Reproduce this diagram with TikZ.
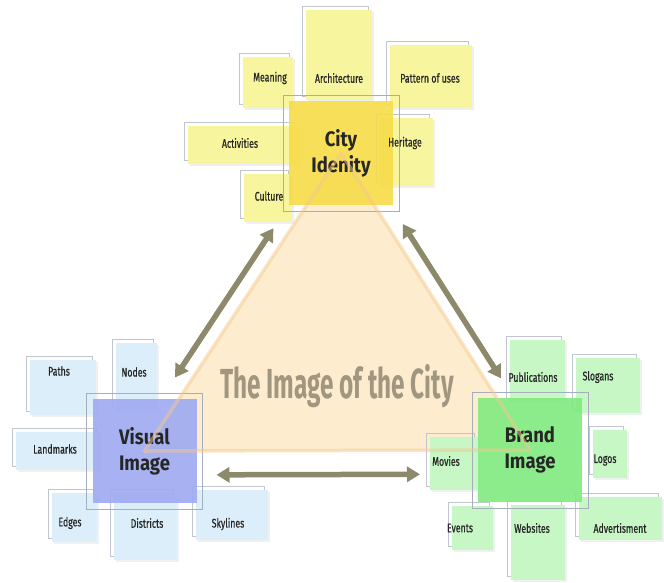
\documentclass[tikz,border=0pt]{standalone}
\usepackage{fontspec}
\setmainfont{Fira Sans}
\newfontfamily\narrowfont[FakeStretch=0.7, FakeBold=0.6]{Fira Sans}
\newfontfamily\semifont[FakeStretch=0.88]{Fira Sans}
\newfontfamily\titlefont[FakeStretch=0.58]{Fira Sans}
\usepackage{tikz}
\usetikzlibrary{shapes,arrows,arrows.meta,positioning,shadows}

\definecolor{yelSat}{HTML}{F7F59E}
\definecolor{yelCore}{HTML}{F6DC48}
\definecolor{bluSat}{HTML}{DCEEF9}
\definecolor{bluCore}{HTML}{9EAAF2}
\definecolor{grnSat}{HTML}{C6F7C4}
\definecolor{grnCore}{HTML}{80EA80}
\definecolor{frameGray}{HTML}{A4AEBC}
\definecolor{arrowOlive}{HTML}{8C8A6A}
\definecolor{triFill}{HTML}{FDEDCE}
\definecolor{triEdge}{HTML}{F5C88E}
\definecolor{titleGray}{HTML}{978D78}

\begin{document}
\begin{tikzpicture}[x=1pt, y=-1pt,
        sat/.style={rectangle, fill=#1, inner sep=0pt,
            drop shadow={opacity=0.12, shadow xshift=2pt, shadow yshift=-2pt},
            preaction={draw=frameGray!70, line width=0.6pt, fill=none, transform canvas={xshift=-4pt, yshift=4pt}}},
        core/.style={rectangle, draw=frameGray, line width=0.8pt, minimum width=116, minimum height=116, inner sep=0pt,
            align=center, text=black!85, font=\semifont\bfseries\fontsize{21}{26}\selectfont,
            path picture={\fill[#1, opacity=0.9] ([xshift=6pt,yshift=6pt]path picture bounding box.south west)
                rectangle ([xshift=-6pt,yshift=-6pt]path picture bounding box.north east);}},
        lbl/.style={font=\narrowfont\fontsize{12.5}{14}\selectfont, text=black!85, inner sep=1pt},
        triedge/.style={draw=triEdge, line width=3.5pt, opacity=0.5, line join=round},
        arrow/.style={{Triangle[width=15pt,length=13pt]}-{Triangle[width=15pt,length=13pt]}, line width=5.5pt, draw=arrowOlive}]

        \useasboundingbox (0,0) rectangle (664,582);

        % Triangle
        \coordinate (cityC) at (341,153);
        \coordinate (visualC) at (144.5,451);
        \coordinate (brandC) at (530,450);
        \fill[triFill] (cityC) -- (visualC) -- (brandC) -- cycle;

        % City identity
        \node[sat=yelSat, minimum width=50, minimum height=51] (meaning) at (268,82.5) {};
        \node[sat=yelSat, minimum width=66, minimum height=90] (arch) at (339,55) {};
        \node[sat=yelSat, minimum width=82, minimum height=63] (pattern) at (431,76.5) {};
        \node[sat=yelSat, minimum width=110, minimum height=38] (activ) at (243,145) {};
        \node[sat=yelSat, minimum width=53, minimum height=68] (heritage) at (406.5,152) {};
        \node[sat=yelSat, minimum width=48, minimum height=48] (culture) at (268,198) {};

        % Visual image
        \node[sat=bluSat, minimum width=66, minimum height=55] (paths) at (63,387.5) {};
        \node[sat=bluSat, minimum width=41, minimum height=67] (nodes) at (136.5,376.5) {};
        \node[sat=bluSat, minimum width=84, minimum height=38] (landmarks) at (58,451) {};
        \node[sat=bluSat, minimum width=45, minimum height=49] (edges) at (74.5,517.5) {};
        \node[sat=bluSat, minimum width=63, minimum height=67] (districts) at (145.5,526.5) {};
        \node[sat=bluSat, minimum width=72, minimum height=50] (skylines) at (232,515) {};

        % Brand image
        \node[sat=grnSat, minimum width=55, minimum height=62] (publ) at (537.5,371) {};
        \node[sat=grnSat, minimum width=64, minimum height=55] (slogans) at (608,385.5) {};
        \node[sat=grnSat, minimum width=48, minimum height=53] (movies) at (454,463.5) {};
        \node[sat=grnSat, minimum width=34, minimum height=48] (logos) at (610,454) {};
        \node[sat=grnSat, minimum width=41, minimum height=44] (events) at (472.5,528) {};
        \node[sat=grnSat, minimum width=54, minimum height=75] (websites) at (538,542.5) {};
        \node[sat=grnSat, minimum width=83, minimum height=43] (advert) at (620.5,518.5) {};

        % Core boxes
        \node[core=yelCore] (city) at (cityC) {City\\Idenity};
        \node[core=bluCore] (visual) at (visualC) {Visual\\Image};
        \node[core=grnCore] (brand) at (brandC) {Brand\\Image};
        \draw[triedge] (cityC) -- (visualC) -- (brandC) -- cycle;

        % Labels
        \node[lbl] (meaningT) at (270,78) {Meaning};
        \node[lbl] (archT) at (339,78) {Architecture};
        \node[lbl] (patternT) at (430,78) {Pattern of uses};
        \node[lbl] (activT) at (240,143) {Activities};
        \node[lbl] (heritageT) at (405,143) {Heritage};
        \node[lbl] (cultureT) at (269,196) {Culture};
        \node[lbl] (pathsT) at (59,371) {Paths};
        \node[lbl] (nodesT) at (134,372) {Nodes};
        \node[lbl] (landmarksT) at (55,449) {Landmarks};
        \node[lbl] (edgesT) at (70,523) {Edges};
        \node[lbl] (districtsT) at (147,523) {Districts};
        \node[lbl] (skylinesT) at (228,524) {Skylines};
        \node[lbl] (publT) at (533,377) {Publications};
        \node[lbl] (slogansT) at (598,377) {Slogans};
        \node[lbl] (moviesT) at (446,461) {Movies};
        \node[lbl] (logosT) at (605,460) {Logos};
        \node[lbl] (eventsT) at (460,528) {Events};
        \node[lbl] (websitesT) at (532,528) {Websites};
        \node[lbl] (advertT) at (620,528) {Advertisment};

        % Arrows
        \draw[arrow, shorten <=100pt, shorten >=78pt] ([xshift=-12.5pt,yshift=8.3pt]city.center) -- ([xshift=-12.5pt,yshift=8.3pt]visual.center);
        \draw[arrow, shorten <=93pt, shorten >=76pt] ([xshift=11.8pt,yshift=7.5pt]city.center) -- ([xshift=11.8pt,yshift=7.5pt]brand.center);
        \draw[arrow, shorten <=72pt, shorten >=110pt] ([yshift=-24pt]visual.center) -- ([yshift=-24pt]brand.center);

        \node[font=\titlefont\bfseries\fontsize{42}{46}\selectfont, text=titleGray, opacity=0.9] (title) at (337,386) {The Image of the City};

    \end{tikzpicture}
\end{document}
